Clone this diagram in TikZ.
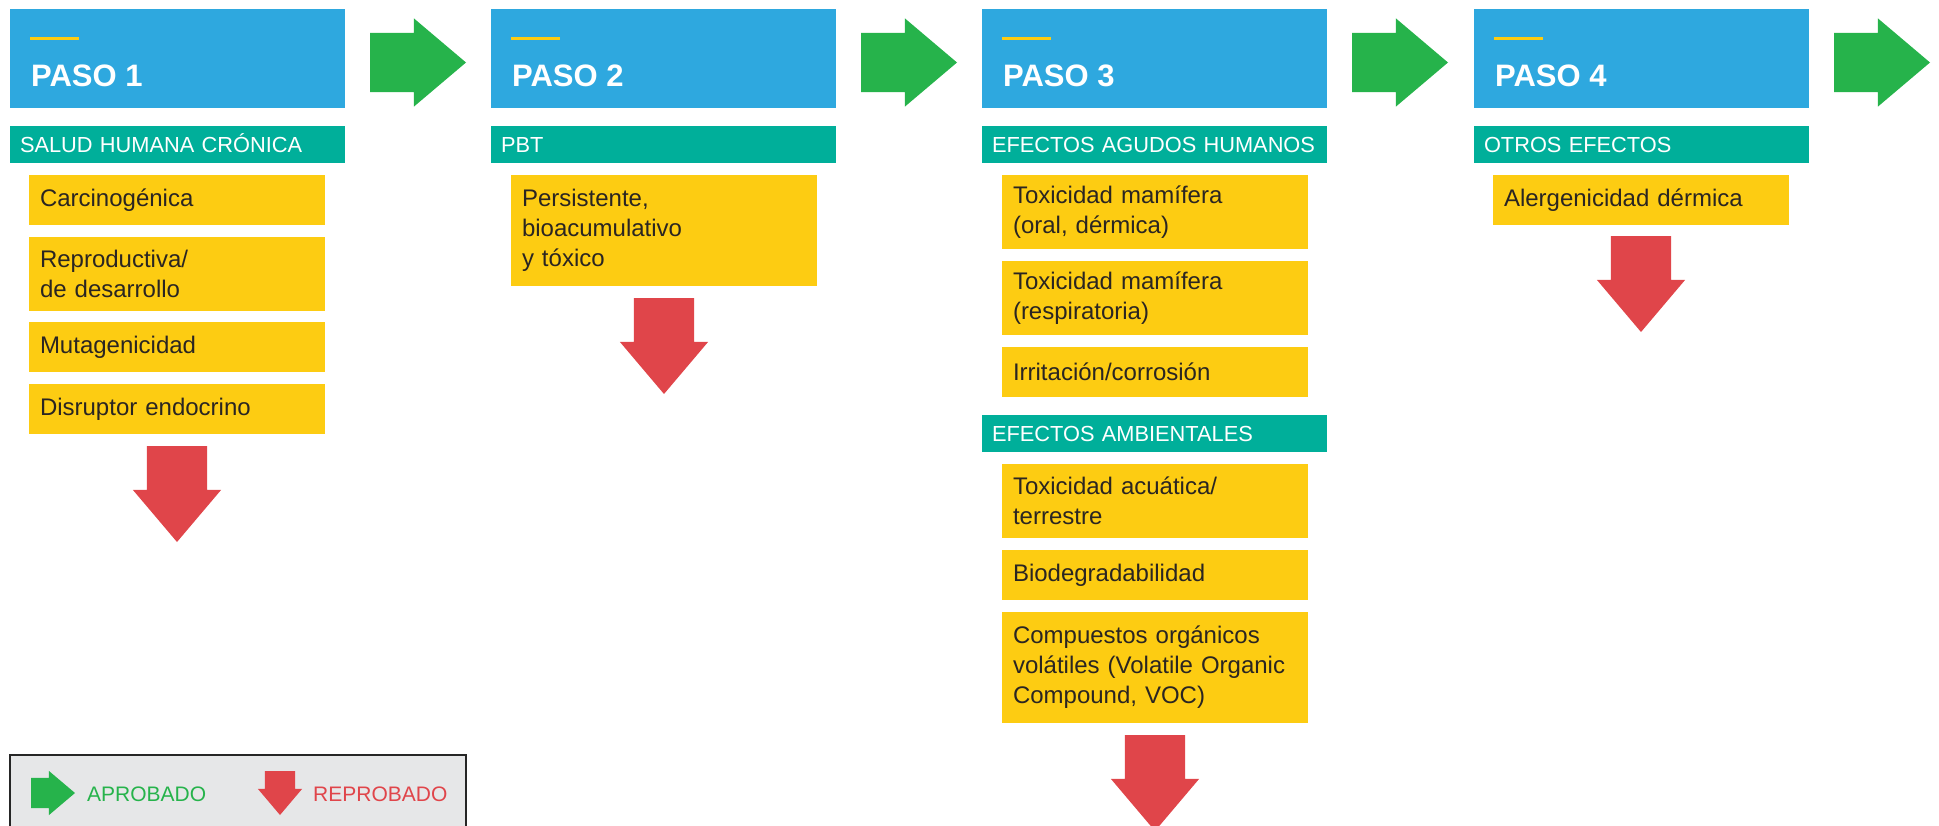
\documentclass[tikz,border=0pt]{standalone}
\usepackage{fontspec}
\setmainfont{Liberation Sans}
\usetikzlibrary{shapes.arrows}
\definecolor{pasoblue}{HTML}{2EA8DF}
\definecolor{grupoteal}{HTML}{00AF9A}
\definecolor{itemyellow}{HTML}{FDCC12}
\definecolor{okgreen}{HTML}{26B34B}
\definecolor{failred}{HTML}{E0454A}
\definecolor{itemtext}{HTML}{2A2522}
\definecolor{legendgray}{HTML}{E6E7E8}
\begin{document}
\begin{tikzpicture}[x=1pt,y=-1pt]

\tikzstyle{paso} = [anchor=north west,fill=pasoblue,minimum height=99pt,inner sep=0pt,outer sep=0pt];
\tikzstyle{pasoraya} = [anchor=north west,fill=itemyellow,minimum width=49pt,minimum height=3pt,inner sep=0pt];
\tikzstyle{pasotext} = [anchor=base west,text=white,inner sep=0pt,font=\fontsize{31}{36}\selectfont\bfseries];
\tikzstyle{grupo} = [anchor=north west,fill=grupoteal,text=white,minimum height=37pt,inner xsep=10pt,inner ysep=0pt,outer sep=0pt,align=left,text height=16pt,text depth=0pt,font=\fontsize{21.8}{26}\selectfont];
\tikzstyle{efecto} = [anchor=north west,fill=itemyellow,text=itemtext,inner xsep=11pt,inner ysep=0pt,outer sep=0pt,align=left,font=\fontsize{24}{30}\selectfont];
\tikzstyle{okflecha} = [single arrow,fill=okgreen,anchor=tail,inner xsep=0pt,inner ysep=29.5pt,outer sep=0pt,minimum height=96pt,single arrow head extend=14.5pt,single arrow tip angle=80.5];
\tikzstyle{noflecha} = [okflecha,fill=failred,rotate=-90,inner ysep=30pt,single arrow head extend=14pt];
\tikzstyle{okmini} = [okflecha,inner ysep=15pt,minimum height=44pt,single arrow head extend=7pt];
\tikzstyle{nomini} = [okmini,fill=failred,rotate=-90];
\tikzstyle{leyenda} = [anchor=north west,draw=black!85,line width=1.2pt,fill=legendgray,minimum width=456pt,minimum height=120pt,outer sep=0pt];
\tikzstyle{leyendatext} = [anchor=base west,inner sep=0pt,font=\fontsize{21}{25}\selectfont];

\useasboundingbox (0,0) rectangle (1939,825);
\clip (0,0) rectangle (1939,825);

% paso 1
\node[paso,minimum width=335pt] (p1) at (10,9) {};
\node[pasoraya] (r1) at (30,37) {};
\node[pasotext] (t1) at (31,86) {PASO 1};
\node[grupo,text width=315pt] (g1) at (10,126) {SALUD HUMANA CRÓNICA};
\node[efecto,text width=274pt,minimum height=50pt] (e11) at (29,175) {Carcinogénica};
\node[efecto,text width=274pt,minimum height=74pt] (e12) at (29,237) {Reproductiva/\\de desarrollo};
\node[efecto,text width=274pt,minimum height=50pt] (e13) at (29,322) {Mutagenicidad};
\node[efecto,text width=274pt,minimum height=50pt] (e14) at (29,384) {Disruptor endocrino};
\node[okflecha] (a1) at (370,62.5) {};
\node[noflecha] (n1) at (177,446) {};

% paso 2
\node[paso,minimum width=345pt] (p2) at (491,9) {};
\node[pasoraya] (r2) at (511,37) {};
\node[pasotext] (t2) at (512,86) {PASO 2};
\node[grupo,text width=325pt] (g2) at (491,126) {PBT};
\node[efecto,text width=284pt,minimum height=111pt] (e21) at (511,175) {Persistente,\\bioacumulativo\\y tóxico};
\node[okflecha] (a2) at (861,62.5) {};
\node[noflecha] (n2) at (664,298) {};

% paso 3
\node[paso,minimum width=345pt] (p3) at (982,9) {};
\node[pasoraya] (r3) at (1002,37) {};
\node[pasotext] (t3) at (1003,86) {PASO 3};
\node[grupo,text width=325pt] (g31) at (982,126) {EFECTOS AGUDOS HUMANOS};
\node[efecto,text width=284pt,minimum height=74pt] (e31) at (1002,175) {Toxicidad mamífera\\(oral, dérmica)};
\node[efecto,text width=284pt,minimum height=74pt] (e32) at (1002,261) {Toxicidad mamífera\\(respiratoria)};
\node[efecto,text width=284pt,minimum height=50pt] (e33) at (1002,347) {Irritación/corrosión};
\node[grupo,text width=325pt] (g32) at (982,415) {EFECTOS AMBIENTALES};
\node[efecto,text width=284pt,minimum height=74pt] (e34) at (1002,464) {Toxicidad acuática/\\terrestre};
\node[efecto,text width=284pt,minimum height=50pt] (e35) at (1002,550) {Biodegradabilidad};
\node[efecto,text width=284pt,minimum height=111pt] (e36) at (1002,612) {Compuestos orgánicos\\volátiles (Volatile Organic\\Compound, VOC)};
\node[okflecha] (a3) at (1352,62.5) {};
\node[noflecha] (n3) at (1155,735) {};

% paso 4
\node[paso,minimum width=335pt] (p4) at (1474,9) {};
\node[pasoraya] (r4) at (1494,37) {};
\node[pasotext] (t4) at (1495,86) {PASO 4};
\node[grupo,text width=315pt] (g4) at (1474,126) {OTROS EFECTOS};
\node[efecto,text width=274pt,minimum height=50pt] (e41) at (1493,175) {Alergenicidad dérmica};
\node[okflecha] (a4) at (1834,62.5) {};
\node[noflecha] (n4) at (1641,236) {};

% leyenda
\node[leyenda] (ley) at (10,755) {};
\node[okmini] (la) at (31,793) {};
\node[leyendatext,text=okgreen] (lt1) at (87,801) {APROBADO};
\node[nomini] (lr) at (280,771) {};
\node[leyendatext,text=failred] (lt2) at (313,801) {REPROBADO};
\end{tikzpicture}
\end{document}
